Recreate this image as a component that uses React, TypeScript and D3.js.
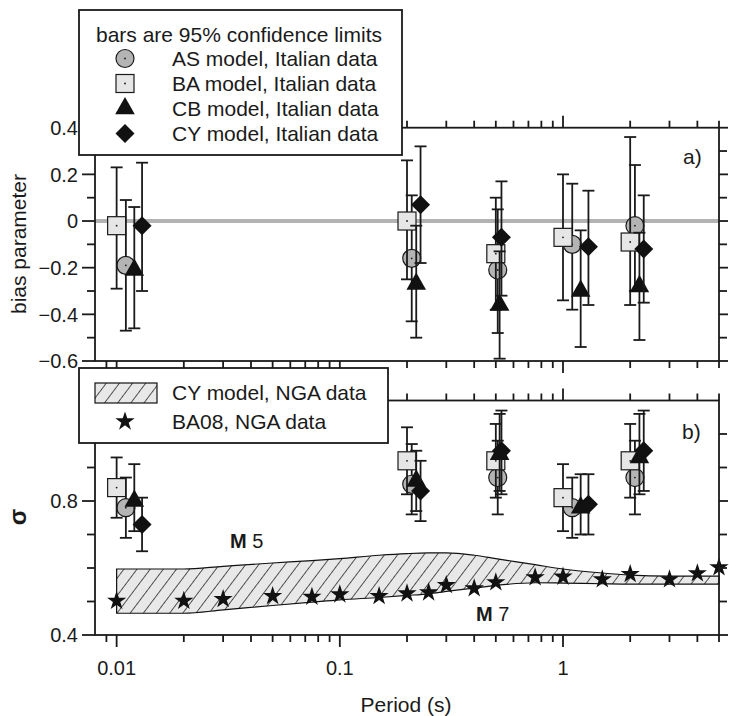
import React from "react";
import * as d3 from "d3";

// ---- Italian data: periods (s) for each model (points offset slightly for legibility)
const periodBA = [0.01, 0.2, 0.5, 1.0, 2.0];
const periodAS = [0.011, 0.21, 0.51, 1.1, 2.1];
const periodCB = [0.012, 0.22, 0.52, 1.2, 2.2];
const periodCY = [0.013, 0.23, 0.53, 1.3, 2.3];

// ---- bias parameter with 95% confidence limits
const biasBA = [-0.02, 0.0, -0.14, -0.07, -0.09];
const biasBALo = [-0.29, -0.25, -0.38, -0.34, -0.36];
const biasBAHi = [0.23, 0.26, 0.1, 0.2, 0.36];
const biasAS = [-0.19, -0.16, -0.21, -0.1, -0.02];
const biasASLo = [-0.47, -0.43, -0.48, -0.38, -0.3];
const biasASHi = [0.09, 0.11, 0.05, 0.16, 0.24];
const biasCB = [-0.21, -0.27, -0.36, -0.3, -0.28];
const biasCBLo = [-0.46, -0.5, -0.59, -0.54, -0.51];
const biasCBHi = [0.06, -0.02, -0.13, -0.04, -0.05];
const biasCY = [-0.02, 0.07, -0.07, -0.11, -0.12];
const biasCYLo = [-0.3, -0.18, -0.32, -0.36, -0.35];
const biasCYHi = [0.25, 0.32, 0.17, 0.13, 0.11];

// ---- sigma with 95% confidence limits
const sigmaBA = [0.84, 0.92, 0.92, 0.81, 0.92];
const sigmaBALo = [0.75, 0.82, 0.81, 0.71, 0.81];
const sigmaBAHi = [0.93, 1.02, 1.03, 0.91, 1.03];
const sigmaAS = [0.78, 0.85, 0.87, 0.78, 0.87];
const sigmaASLo = [0.69, 0.76, 0.76, 0.69, 0.76];
const sigmaASHi = [0.87, 0.97, 0.98, 0.87, 0.98];
const sigmaCB = [0.8, 0.86, 0.94, 0.78, 0.93];
const sigmaCBLo = [0.71, 0.77, 0.83, 0.7, 0.82];
const sigmaCBHi = [0.91, 0.95, 1.06, 0.88, 1.06];
const sigmaCY = [0.73, 0.83, 0.95, 0.79, 0.95];
const sigmaCYLo = [0.65, 0.74, 0.82, 0.7, 0.83];
const sigmaCYHi = [0.81, 0.92, 1.07, 0.88, 1.07];

// ---- NGA data: CY model sigma range (M5 upper, M7 lower) and BA08 sigma
const ngaPeriods = [0.01, 0.02, 0.03, 0.05, 0.075, 0.1, 0.15, 0.2, 0.25, 0.3, 0.4, 0.5, 0.75, 1, 1.5, 2, 3, 4, 5];
const cySigmaM5 = [0.597, 0.597, 0.605, 0.615, 0.622, 0.628, 0.638, 0.643, 0.645, 0.645, 0.638, 0.628, 0.61, 0.597, 0.585, 0.579, 0.576, 0.576, 0.576];
const cySigmaM7 = [0.465, 0.465, 0.475, 0.488, 0.498, 0.505, 0.512, 0.518, 0.523, 0.53, 0.54, 0.548, 0.556, 0.555, 0.553, 0.552, 0.552, 0.552, 0.552];
const ba08Sigma = [0.502, 0.502, 0.507, 0.516, 0.514, 0.521, 0.516, 0.524, 0.527, 0.549, 0.539, 0.557, 0.572, 0.574, 0.566, 0.582, 0.566, 0.584, 0.602];

// ---- ticks
const xMajorTicks = [0.01, 0.1, 1];
const xMinorTicks = [0.009, 0.02, 0.03, 0.04, 0.05, 0.06, 0.07, 0.08, 0.09, 0.2, 0.3, 0.4, 0.5, 0.6, 0.7, 0.8, 0.9, 2, 3, 4, 5];
const xTickLabels = ["0.01", "0.1", "1"];
const biasMajorTicks = [-0.6, -0.4, -0.2, 0, 0.2, 0.4];
const biasMinorTicks = [-0.5, -0.3, -0.1, 0.1, 0.3];
const biasTickLabels = ["\u22120.6", "\u22120.4", "\u22120.2", "0", "0.2", "0.4"];
const sigmaMajorTicks = [0.4, 0.8];
const sigmaMinorTicks = [0.5, 0.6, 0.7, 0.9, 1.0];
const sigmaTickLabels = ["0.4", "0.8"];

const legendItalian = ["AS model, Italian data", "BA model, Italian data", "CB model, Italian data", "CY model, Italian data"];

const W = 729;
const H = 716;
const FONT = "'Liberation Sans', Arial, Helvetica, sans-serif";
const INK = "#1a1a1a";

const x = d3.scaleLog().domain([0.008, 5]).range([95, 719]);
const yA = d3.scaleLinear().domain([-0.6, 0.4]).range([361, 127.7]);
const yB = d3.scaleLinear().domain([0.4, 1.1]).range([635, 400.5]);

const circleR = 9;
const squareHalf = 9;
const trianglePath = "M0,-11.6L9.8,5.8L-9.8,5.8Z";
const diamondPath = "M0,-9.5L9.5,0L0,9.5L-9.5,0Z";
const starPath = d3.symbol().type(d3.symbolStar).size(115)()!;

type Kind = "AS" | "BA" | "CB" | "CY";

function Marker({ kind, cx, cy }: { kind: Kind; cx: number; cy: number }) {
  if (kind === "AS") {
    return (
      <g>
        <circle cx={cx} cy={cy} r={circleR} fill="#b4b4b4" stroke={INK} strokeWidth={1.2} />
        <circle cx={cx} cy={cy} r={0.9} fill={INK} />
      </g>
    );
  }
  if (kind === "BA") {
    return (
      <g>
        <rect x={cx - squareHalf} y={cy - squareHalf} width={squareHalf * 2} height={squareHalf * 2} fill="#e6e6e6" stroke={INK} strokeWidth={1.2} />
        <circle cx={cx} cy={cy} r={0.9} fill={INK} />
      </g>
    );
  }
  if (kind === "CB") {
    return <path d={trianglePath} transform={`translate(${cx},${cy})`} fill="#111" />;
  }
  return <path d={diamondPath} transform={`translate(${cx},${cy})`} fill="#111" />;
}

function Series({ kind, periods, vals, lo, hi, y }: { kind: Kind; periods: number[]; vals: number[]; lo: number[]; hi: number[]; y: d3.ScaleLinear<number, number> }) {
  return (
    <g>
      {periods.map((p, i) => {
        const px = x(p);
        return (
          <g key={i}>
            <line x1={px} x2={px} y1={y(hi[i])} y2={y(lo[i])} stroke={INK} strokeWidth={1.8} />
            <line x1={px - 6} x2={px + 6} y1={y(hi[i])} y2={y(hi[i])} stroke={INK} strokeWidth={1.8} />
            <line x1={px - 6} x2={px + 6} y1={y(lo[i])} y2={y(lo[i])} stroke={INK} strokeWidth={1.8} />
            <Marker kind={kind} cx={px} cy={y(vals[i])} />
          </g>
        );
      })}
    </g>
  );
}

function Frame({ y, major, minor, labels }: { y: d3.ScaleLinear<number, number>; major: number[]; minor: number[]; labels?: string[] }) {
  const [x0, x1] = x.range();
  const [yb, yt] = y.range();
  return (
    <g stroke={INK} strokeWidth={1.8}>
      <rect x={x0} y={yt} width={x1 - x0} height={yb - yt} fill="none" />
      {major.map((v) => (
        <g key={`M${v}`}>
          <line x1={x0 - 13} x2={x0} y1={y(v)} y2={y(v)} />
          <line x1={x1} x2={x1 + 9} y1={y(v)} y2={y(v)} />
        </g>
      ))}
      {minor.map((v) => (
        <g key={`m${v}`}>
          <line x1={x0 - 8} x2={x0} y1={y(v)} y2={y(v)} />
          <line x1={x1} x2={x1 + 8} y1={y(v)} y2={y(v)} />
        </g>
      ))}
      {xMajorTicks.map((v) => (
        <g key={`xM${v}`}>
          <line x1={x(v)} x2={x(v)} y1={yb} y2={yb + 12} />
          <line x1={x(v)} x2={x(v)} y1={yt} y2={yt - 12} />
        </g>
      ))}
      {xMinorTicks.map((v) => (
        <g key={`xm${v}`}>
          <line x1={x(v)} x2={x(v)} y1={yb} y2={yb + 7} />
          <line x1={x(v)} x2={x(v)} y1={yt} y2={yt - 7} />
        </g>
      ))}
      {labels &&
        major.map((v, i) => (
          <text key={`t${v}`} x={x0 - 17} y={y(v)} dy="0.36em" textAnchor="end" stroke="none" fill={INK} fontSize={20}>
            {labels[i]}
          </text>
        ))}
    </g>
  );
}

export default function App() {
  const band = d3
    .area<number>()
    .x((_, i) => x(ngaPeriods[i]))
    .y0((_, i) => yB(cySigmaM7[i]))
    .y1((d) => yB(d))
    .curve(d3.curveMonotoneX)(cySigmaM5)!;

  return (
    <svg width={W} height={H} style={{ position: "absolute", left: 0, top: 0, background: "#fff" }} fontFamily={FONT}>
      <defs>
        <pattern id="hatch" width={10.5} height={10.5} patternUnits="userSpaceOnUse" patternTransform="rotate(37)">
          <rect width={10.5} height={10.5} fill="#e8e8e8" />
          <line x1={0} y1={0} x2={0} y2={10.5} stroke="#111" strokeWidth={1.4} />
        </pattern>
      </defs>

      {/* panel a: bias */}
      <line x1={x.range()[0]} x2={x.range()[1]} y1={yA(0)} y2={yA(0)} stroke="#b3b3b3" strokeWidth={4} />
      <Series kind="AS" periods={periodAS} vals={biasAS} lo={biasASLo} hi={biasASHi} y={yA} />
      <Series kind="BA" periods={periodBA} vals={biasBA} lo={biasBALo} hi={biasBAHi} y={yA} />
      <Series kind="CB" periods={periodCB} vals={biasCB} lo={biasCBLo} hi={biasCBHi} y={yA} />
      <Series kind="CY" periods={periodCY} vals={biasCY} lo={biasCYLo} hi={biasCYHi} y={yA} />
      <Frame y={yA} major={biasMajorTicks} minor={biasMinorTicks} labels={biasTickLabels} />
      <text x={683} y={164} fontSize={21} fill={INK}>a)</text>

      {/* panel b: sigma */}
      <path d={band} fill="url(#hatch)" stroke="#111" strokeWidth={1.2} />
      {ngaPeriods.map((p, i) => (
        <path key={i} d={starPath} transform={`translate(${x(p)},${yB(ba08Sigma[i])})`} fill="#111" />
      ))}
      <Series kind="AS" periods={periodAS} vals={sigmaAS} lo={sigmaASLo} hi={sigmaASHi} y={yB} />
      <Series kind="BA" periods={periodBA} vals={sigmaBA} lo={sigmaBALo} hi={sigmaBAHi} y={yB} />
      <Series kind="CB" periods={periodCB} vals={sigmaCB} lo={sigmaCBLo} hi={sigmaCBHi} y={yB} />
      <Series kind="CY" periods={periodCY} vals={sigmaCY} lo={sigmaCYLo} hi={sigmaCYHi} y={yB} />
      <Frame y={yB} major={sigmaMajorTicks} minor={sigmaMinorTicks} labels={sigmaTickLabels} />
      <text x={682} y={439} fontSize={21} fill={INK}>b)</text>
      <text x={230} y={548} fontSize={20} fill={INK}>
        <tspan fontWeight="bold">M</tspan> 5
      </text>
      <text x={476} y={621} fontSize={20} fill={INK}>
        <tspan fontWeight="bold">M</tspan> 7
      </text>

      {/* x tick labels and titles */}
      {xMajorTicks.map((v, i) => (
        <text key={v} x={x(v)} y={675} textAnchor="middle" fontSize={20} fill={INK}>
          {xTickLabels[i]}
        </text>
      ))}
      <text x={406} y={712} textAnchor="middle" fontSize={21} fill={INK}>Period (s)</text>
      <text transform="translate(26,244) rotate(-90)" textAnchor="middle" fontSize={21} fill={INK}>bias parameter</text>
      <text transform="translate(26,517) rotate(-90)" textAnchor="middle" fontSize={24} fontWeight="bold" fill={INK}>σ</text>

      {/* legend: Italian data */}
      <g>
        <rect x={79} y={10} width={323} height={145} fill="#fff" stroke={INK} strokeWidth={1.8} />
        <text x={96} y={42} fontSize={21} fill={INK}>bars are 95% confidence limits</text>
        {(["AS", "BA", "CB", "CY"] as Kind[]).map((k, i) => (
          <g key={k}>
            <Marker kind={k} cx={125} cy={58.5 + i * 25} />
            <text x={172} y={65.5 + i * 25} fontSize={21} fill={INK}>{legendItalian[i]}</text>
          </g>
        ))}
      </g>

      {/* legend: NGA data */}
      <g>
        <rect x={79} y={368} width={309} height={75} fill="#fff" stroke={INK} strokeWidth={1.8} />
        <rect x={95} y={383} width={62} height={20} fill="url(#hatch)" stroke="#111" strokeWidth={1.2} />
        <text x={172} y={400} fontSize={21} fill={INK}>CY model, NGA data</text>
        <path d={starPath} transform="translate(125,421.5)" fill="#111" />
        <text x={172} y={428.5} fontSize={21} fill={INK}>BA08, NGA data</text>
      </g>
    </svg>
  );
}
